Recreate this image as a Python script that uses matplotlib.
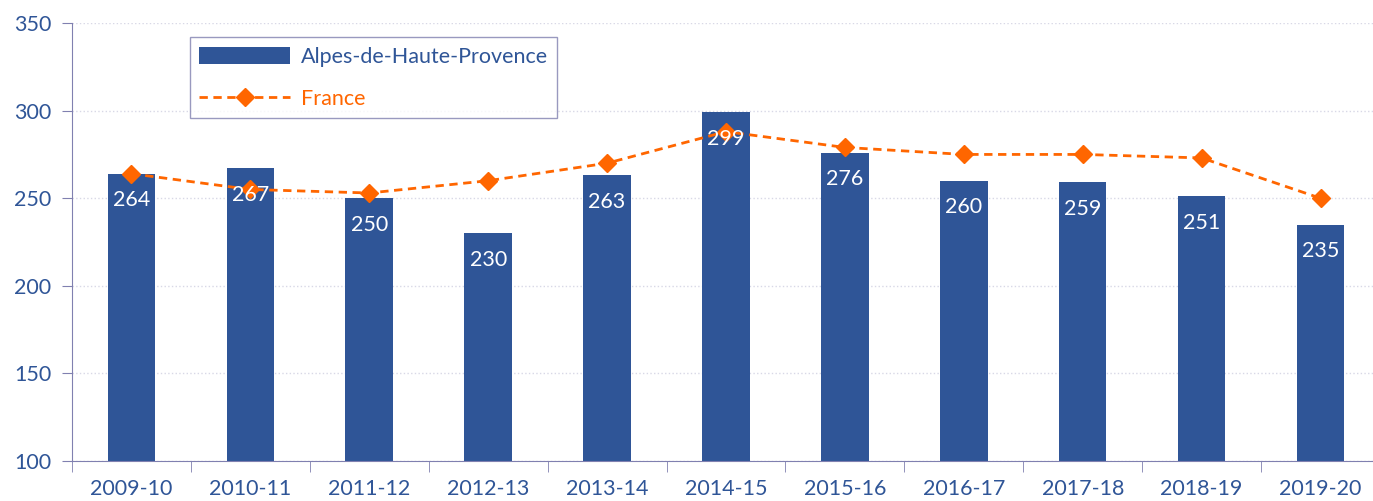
import matplotlib
matplotlib.use('Agg')
import matplotlib.pyplot as plt
import numpy as np

plt.rcParams['font.family'] = ['Lato', 'DejaVu Sans']

years = ['2009-10', '2010-11', '2011-12', '2012-13', '2013-14', '2014-15',
         '2015-16', '2016-17', '2017-18', '2018-19', '2019-20']
alpes = [264, 267, 250, 230, 263, 299, 276, 260, 259, 251, 235]
france = [264, 255, 253, 260, 270, 288, 279, 275, 275, 273, 250]

blue = '#2F5597'
orange = '#FF6600'
axis_col = '#8080B0'

fig = plt.figure(figsize=(13.73, 5.01), dpi=100)
ax = fig.add_axes([0.0524, 0.0798, 0.9527, 0.8742])

x = np.arange(len(years))
bars = ax.bar(x, [v - 100 for v in alpes], bottom=100, width=0.4, color=blue,
              label='Alpes-de-Haute-Provence', zorder=2)
line, = ax.plot(x, france, color=orange, linestyle='--', dashes=(3, 2), linewidth=2,
                marker='D', markersize=9, label='France', zorder=3)

for xi, v in zip(x, alpes):
    ax.annotate(str(v), (xi, v), xytext=(0, -19), textcoords='offset points',
                ha='center', va='center', color='white', fontsize=15.5, zorder=4)

ax.set_xlim(-0.5, len(years) - 0.5)
ax.set_ylim(100, 350)
ax.set_yticks(range(100, 351, 50))
ax.yaxis.grid(True, color='#D8D8E6', linestyle=':', linewidth=1, zorder=0)

ax.set_xticks(x)
ax.set_xticklabels(years)
ax.set_xticks(np.arange(-0.5, len(years), 1), minor=True)
ax.tick_params(axis='x', which='major', length=0, pad=13, labelsize=15.5, labelcolor=blue)
ax.tick_params(axis='x', which='minor', length=8, color=axis_col, direction='out')
ax.tick_params(axis='y', length=7, color=axis_col, labelsize=15.5, labelcolor=blue, pad=8)

for s in ['top', 'right']:
    ax.spines[s].set_visible(False)
for s in ['left', 'bottom']:
    ax.spines[s].set_color(axis_col)

leg = ax.legend([bars, line], ['Alpes-de-Haute-Provence', 'France'],
                loc='upper left', bbox_to_anchor=(0.09, 0.967), fontsize=15.5,
                frameon=True, fancybox=False, handlelength=4.2, handleheight=0.8,
                borderpad=0.45, labelspacing=1.0, borderaxespad=0, handletextpad=0.5)
leg.get_frame().set_edgecolor(axis_col)
leg.get_frame().set_linewidth(1)
for t, c in zip(leg.get_texts(), [blue, orange]):
    t.set_color(c)

fig.savefig('out.png', dpi=100)
